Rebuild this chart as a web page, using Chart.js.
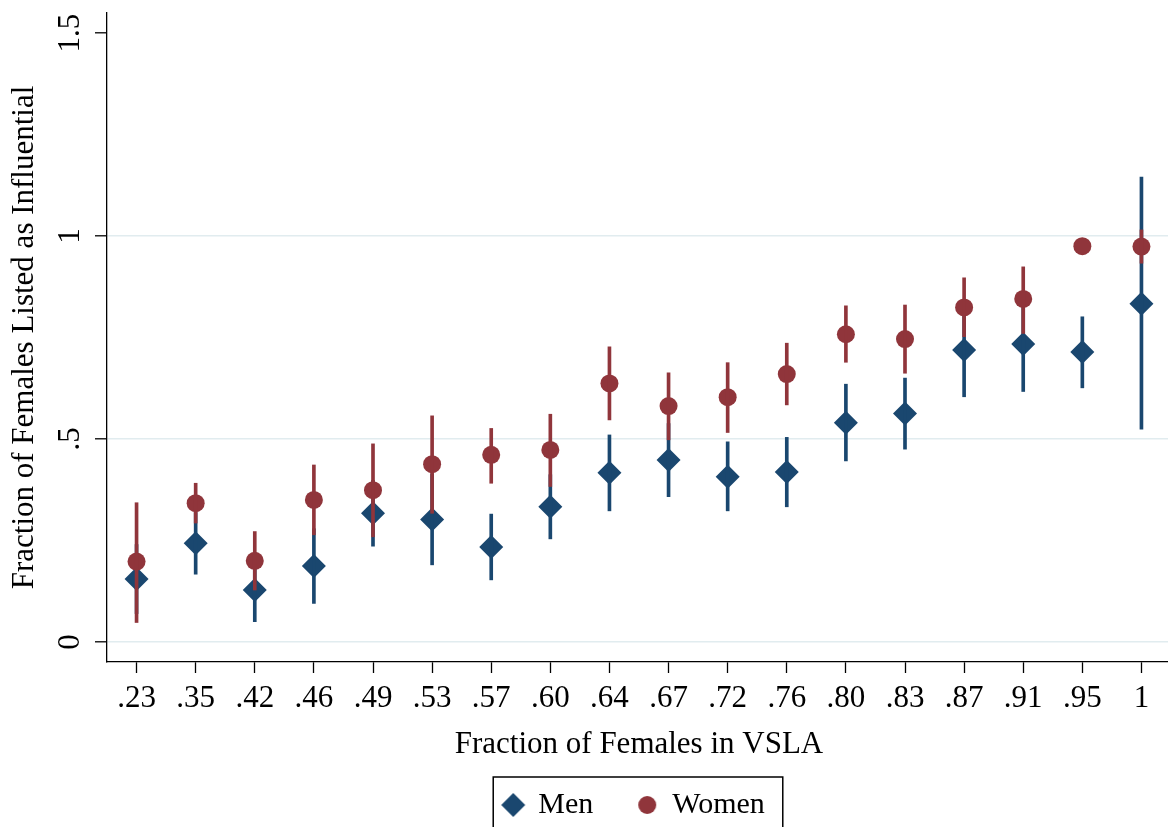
<!DOCTYPE html>
<html>
<head>
<meta charset="utf-8">
<script src="https://cdn.jsdelivr.net/npm/chart.js@4.4.1/dist/chart.umd.min.js"></script>
<style>
html, body { margin: 0; padding: 0; overflow: hidden; background: #fff; }
canvas { display: block; }
</style>
</head>
<body>
<canvas id="c" width="1183" height="827"></canvas>
<script>
// ---- data ----
const categories = ['.23','.35','.42','.46','.49','.53','.57','.60','.64','.67','.72','.76','.80','.83','.87','.91','.95','1'];

const menMean = [0.155, 0.243, 0.128, 0.187, 0.317, 0.302, 0.234, 0.333, 0.417, 0.448, 0.407, 0.419, 0.540, 0.563, 0.719, 0.734, 0.714, 0.833];
const menLow  = [0.070, 0.167, 0.050, 0.095, 0.236, 0.190, 0.153, 0.254, 0.323, 0.358, 0.323, 0.333, 0.446, 0.475, 0.604, 0.617, 0.626, 0.524];
const menHigh = [0.240, 0.319, 0.206, 0.279, 0.398, 0.414, 0.315, 0.412, 0.510, 0.538, 0.493, 0.504, 0.635, 0.650, 0.834, 0.851, 0.801, 1.145];

const womenMean = [0.198, 0.342, 0.200, 0.350, 0.374, 0.438, 0.461, 0.473, 0.637, 0.581, 0.603, 0.660, 0.758, 0.746, 0.824, 0.845, 0.975, 0.974];
const womenLow  = [0.048, 0.293, 0.128, 0.264, 0.259, 0.317, 0.391, 0.383, 0.547, 0.498, 0.516, 0.584, 0.689, 0.662, 0.752, 0.760, null, 0.933];
const womenHigh = [0.343, 0.391, 0.272, 0.436, 0.488, 0.557, 0.526, 0.561, 0.727, 0.663, 0.688, 0.736, 0.828, 0.830, 0.897, 0.924, null, 1.015];

const yTickValues = [0, 0.5, 1, 1.5];
const yTickLabels = ['0', '.5', '1', '1.5'];
const yGridValues = [0, 0.5, 1];

const xTitle = 'Fraction of Females in VSLA';
const yTitle = 'Fraction of Females Listed as Influential';
const seriesNames = ['Men', 'Women'];

// ---- styles ----
const MEN = '#1a476f';
const WOMEN = '#90353b';
const FONT = "'Liberation Serif', 'Times New Roman', serif";

function range(lo, hi) {
  return lo.map((v, i) => (v == null || hi[i] == null) ? null : [v, hi[i]]);
}

function markerCanvas(kind, color) {
  const c = document.createElement('canvas');
  const s = kind === 'diamond' ? 26 : 20;
  c.width = s; c.height = s;
  const g = c.getContext('2d');
  g.fillStyle = color;
  g.beginPath();
  if (kind === 'diamond') {
    const h = 12, m = s / 2;
    g.moveTo(m, m - h); g.lineTo(m + h, m); g.lineTo(m, m + h); g.lineTo(m - h, m); g.closePath();
  } else {
    g.arc(s / 2, s / 2, 9, 0, Math.PI * 2);
  }
  g.fill();
  return c;
}
const legendMarkers = { Men: markerCanvas('diamond', MEN), Women: markerCanvas('circle', WOMEN) };

const extras = {
  id: 'extras',
  afterLayout(chart) {
    const lg = chart.legend;
    if (lg) {
      const center = (chart.chartArea.left + chart.chartArea.right) / 2 - 5;
      lg.left = 2 * center - lg.right;
      lg.top += 3;
    }
  },
  afterDraw(chart) {
    const ctx = chart.ctx;
    const ys = chart.scales.y;
    ctx.save();
    ctx.fillStyle = '#000';
    ctx.font = '31px ' + FONT;
    ctx.textAlign = 'center';
    ctx.textBaseline = 'middle';
    yTickValues.forEach((v, i) => {
      const py = ys.getPixelForValue(v);
      ctx.save();
      ctx.translate(71, py);
      ctx.rotate(-Math.PI / 2);
      ctx.fillText(yTickLabels[i], 0, 0);
      ctx.restore();
    });
    // legend frame
    const hb = chart.legend && chart.legend.legendHitBoxes;
    if (hb && hb.length) {
      const l = hb[0].left - 10;
      const last = hb[hb.length - 1];
      const r = last.left + last.width + 18;
      const t = hb[0].top - 13;
      ctx.strokeStyle = '#000';
      ctx.lineWidth = 1.5;
      ctx.strokeRect(l, t, r - l, 80);
    }
    ctx.restore();
  }
};

new Chart(document.getElementById('c'), {
  type: 'bar',
  data: {
    labels: categories,
    datasets: [
      { type: 'bar', label: 'Women CI', data: range(womenLow, womenHigh), backgroundColor: WOMEN,
        barThickness: 3, grouped: false, borderWidth: 0, borderSkipped: false, order: 0 },
      { type: 'line', label: seriesNames[1], data: womenMean, showLine: false, pointStyle: 'circle',
        pointRadius: 9, pointBackgroundColor: WOMEN, pointBorderWidth: 0, borderColor: WOMEN, backgroundColor: WOMEN, order: 1 },
      { type: 'bar', label: 'Men CI', data: range(menLow, menHigh), backgroundColor: MEN,
        barThickness: 3, grouped: false, borderWidth: 0, borderSkipped: false, order: 2 },
      { type: 'line', label: seriesNames[0], data: menMean, showLine: false, pointStyle: 'rectRot',
        pointRadius: 12, pointBackgroundColor: MEN, pointBorderWidth: 0, borderColor: MEN, backgroundColor: MEN, order: 3 }
    ]
  },
  options: {
    responsive: false,
    animation: false,
    devicePixelRatio: 1,
    events: [],
    layout: { padding: { top: 13, left: 0, right: 0, bottom: 0 } },
    scales: {
      x: {
        type: 'category',
        offset: true,
        afterFit(s) { s.height = 81; },
        grid: { drawOnChartArea: false, drawTicks: true, tickLength: 11, tickColor: '#000', tickWidth: 1.3, offset: false },
        border: { color: '#000', width: 1.3 },
        ticks: { color: '#000', font: { family: FONT, size: 31 }, padding: 7, maxRotation: 0, minRotation: 0, autoSkip: false },
        title: { display: true, text: xTitle, color: '#000', font: { family: FONT, size: 31 }, padding: { top: 0, bottom: -20 } }
      },
      y: {
        type: 'linear',
        min: -0.0493,
        max: 1.5493,
        afterFit(s) { s.width = 107; },
        afterBuildTicks(s) { s.ticks = yTickValues.map(v => ({ value: v })); },
        grid: {
          color: c => (c.tick && yGridValues.includes(c.tick.value)) ? '#e1ecef' : 'rgba(0,0,0,0)',
          lineWidth: 1.6,
          drawTicks: true, tickLength: 12, tickColor: '#000', tickWidth: 1.3
        },
        border: { color: '#000', width: 1.3 },
        ticks: { display: false },
        title: { display: true, text: yTitle, color: '#000', font: { family: FONT, size: 31 }, padding: { top: 6, bottom: 0 } }
      }
    },
    plugins: {
      tooltip: { enabled: false },
      legend: {
        display: true,
        position: 'bottom',
        labels: {
          color: '#000',
          font: { family: FONT, size: 30 },
          usePointStyle: true,
          boxWidth: 20,
          padding: 44,
          filter: item => seriesNames.includes(item.text),
          sort: (a, b) => seriesNames.indexOf(a.text) - seriesNames.indexOf(b.text),
          generateLabels(chart) {
            const items = Chart.defaults.plugins.legend.labels.generateLabels(chart);
            return items.map(it => Object.assign(it, { pointStyle: legendMarkers[it.text] || it.pointStyle, lineWidth: 0 }));
          }
        }
      }
    }
  },
  plugins: [extras]
});
</script>
</body>
</html>
